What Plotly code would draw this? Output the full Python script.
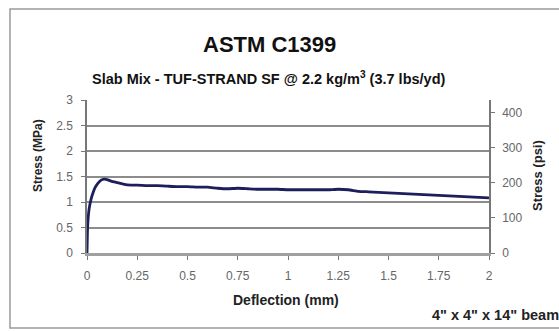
import plotly.graph_objects as go

deflection_mm = [0, 0.003, 0.01, 0.02, 0.03, 0.04, 0.055, 0.07, 0.085, 0.1, 0.12, 0.15, 0.18, 0.22,
                 0.25, 0.3, 0.35, 0.4, 0.45, 0.5, 0.55, 0.6, 0.65, 0.7, 0.75, 0.8, 0.85, 0.9, 0.95,
                 1.0, 1.05, 1.1, 1.15, 1.2, 1.25, 1.3, 1.35, 1.4, 1.45, 1.5, 1.55, 1.6, 1.65, 1.7,
                 1.75, 1.8, 1.85, 1.9, 1.95, 2.0]
stress_mpa = [0, 0.5, 0.85, 1.05, 1.18, 1.28, 1.37, 1.43, 1.45, 1.44, 1.41, 1.38, 1.35, 1.33,
              1.33, 1.32, 1.32, 1.31, 1.30, 1.30, 1.29, 1.29, 1.27, 1.26, 1.27, 1.26, 1.25, 1.25, 1.25,
              1.24, 1.24, 1.24, 1.24, 1.24, 1.25, 1.24, 1.21, 1.2, 1.19, 1.18, 1.17, 1.16, 1.15, 1.14,
              1.13, 1.12, 1.11, 1.10, 1.09, 1.08]
x_ticks = [0, 0.25, 0.5, 0.75, 1, 1.25, 1.5, 1.75, 2]
x_tick_labels = ["0", "0.25", "0.5", "0.75", "1", "1.25", "1.5", "1.75", "2"]
y_ticks = [0, 0.5, 1, 1.5, 2, 2.5, 3]
y2_ticks = [0, 100, 200, 300, 400]
MPA_TO_PSI = 145.038

FONT = "Liberation Sans, Arial, sans-serif"
W, H = 559, 331
L, R, T, B = 87, 70, 100, 78
pw, ph = W - L - R, H - T - B

def px(x):
    return (x - L) / pw

def py(y):
    return (H - B - y) / ph

fig = go.Figure()
fig.add_trace(go.Scatter(x=deflection_mm, y=stress_mpa, mode="lines",
                         line=dict(color="#1c1f5c", width=2.8, shape="spline", smoothing=0.4),
                         showlegend=False, hoverinfo="skip"))
fig.add_trace(go.Scatter(x=deflection_mm, y=[v * MPA_TO_PSI for v in stress_mpa], mode="lines",
                         line=dict(color="rgba(0,0,0,0)", width=0), yaxis="y2",
                         showlegend=False, hoverinfo="skip"))

tickfont = dict(family=FONT, size=12, color="#666666")
fig.update_layout(
    width=W, height=H,
    margin=dict(l=L, r=R, t=T, b=B, pad=0),
    paper_bgcolor="white", plot_bgcolor="white",
    xaxis=dict(range=[0, 2], tickvals=x_ticks, ticktext=x_tick_labels, showgrid=False,
               zeroline=False, showline=True, linecolor="#a0a0a0", linewidth=2.5,
               ticks="outside", ticklen=4, tickcolor="#777777", tickfont=tickfont,
               ticklabelstandoff=6),
    yaxis=dict(range=[0, 3], tickvals=y_ticks, showgrid=True, gridcolor="#8c8c8c", gridwidth=1.5,
               zeroline=False, showline=True, linecolor="#777777", linewidth=1.5,
               ticks="outside", ticklen=4, tickcolor="#777777", tickfont=tickfont,
               ticklabelstandoff=6),
    yaxis2=dict(range=[0, 3 * MPA_TO_PSI], tickvals=y2_ticks, overlaying="y", side="right",
                showgrid=False, zeroline=False, showline=True, linecolor="#777777", linewidth=1.5,
                ticks="outside", ticklen=4, tickcolor="#777777", tickfont=tickfont,
                ticklabelstandoff=5),
)

fig.add_shape(type="rect", xref="paper", yref="paper",
              x0=px(10), x1=px(580), y0=py(328), y1=py(9),
              line=dict(color="#9a9a9a", width=1.5), fillcolor="rgba(0,0,0,0)", layer="below")

def ann(text, x, y, size, color="#111111", angle=0, xanchor="center"):
    fig.add_annotation(text=text, xref="paper", yref="paper", x=px(x), y=py(y),
                       showarrow=False, textangle=angle,
                       font=dict(family=FONT, size=size, color=color),
                       xanchor=xanchor, yanchor="middle")

ann("<b>ASTM C1399</b>", 269, 45, 22)
ann("<b>Slab Mix - TUF-STRAND SF @ 2.2 kg/m<sup>3</sup> (3.7 lbs/yd)</b>", 269, 78, 14.5)
ann("<b>Deflection (mm)</b>", 286, 300, 14, "#222222")
ann("<b>Stress (MPa)</b>", 38, 156, 12, "#222222", angle=-90)
ann("<b>Stress (psi)</b>", 537, 176, 13, "#222222", angle=-90)
ann("<b>4\" x 4\" x 14\" beam</b>", 430, 315, 14.5, "#222222", xanchor="left")

fig.write_html("out.html")
